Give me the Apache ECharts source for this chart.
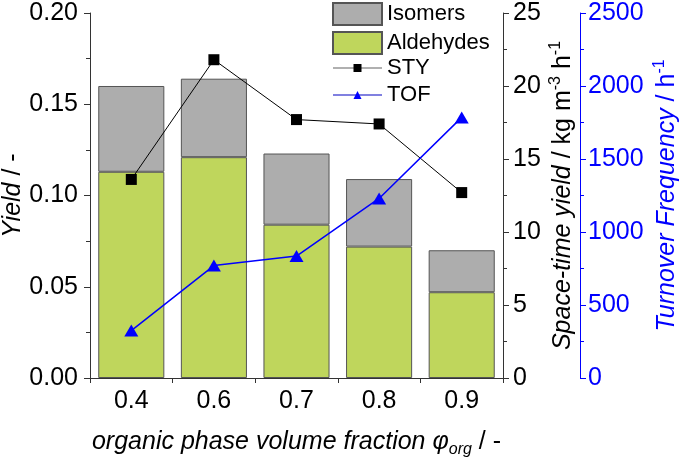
<!DOCTYPE html>
<html>
<head>
<meta charset="utf-8">
<script src="https://cdn.jsdelivr.net/npm/echarts@6/dist/echarts.min.js"></script>
<style>html,body{margin:0;padding:0;background:#fff}#c{width:680px;height:459px}</style>
</head>
<body>
<div id="c"></div>
<script>
var categories = ['0.4', '0.6', '0.7', '0.8', '0.9'];
var aldehydes = [0.113, 0.121, 0.084, 0.072, 0.047];
var isomers = [0.047, 0.043, 0.039, 0.037, 0.023];
var sty = [13.6, 21.8, 17.7, 17.4, 12.7];
var tof = [325, 770, 835, 1230, 1785];
var yieldTicks = {min: 0, max: 0.2, interval: 0.05};
var styTicks = {min: 0, max: 25, interval: 5};
var tofTicks = {min: 0, max: 2500, interval: 500};

var FF = '"Liberation Sans", Arial, sans-serif';
var AX = '#333';
var BLUE = '#0000ff';
var LF = 25, NF = 25, SF = 16;
var chart = echarts.init(document.getElementById('c'), null, {renderer: 'canvas'});
chart.setOption({
  animation: false,
  textStyle: {fontFamily: FF},
  grid: {left: 90, right: 177, top: 13, bottom: 81, containLabel: false, outerBoundsMode: 'none'},
  legend: [{
    data: ['Isomers', 'Aldehydes'],
    orient: 'vertical', left: 332, top: 2, icon: 'rect', padding: 0,
    itemWidth: 49, itemHeight: 22, itemGap: 5,
    textStyle: {fontSize: 22, color: '#000', fontFamily: FF, lineHeight: 22}
  }, {
    data: [{name: 'STY', lineStyle: {color: '#b0b0b0'}}, {name: 'TOF', lineStyle: {color: '#8080e0'}}],
    orient: 'vertical', left: 332, top: 57, padding: 0,
    itemWidth: 49, itemHeight: 10, itemGap: 5,
    textStyle: {fontSize: 22, color: '#000', fontFamily: FF, lineHeight: 22}
  }],
  xAxis: {
    type: 'category', data: categories,
    axisLine: {lineStyle: {color: AX, width: 1}},
    axisTick: {show: true, alignWithLabel: false, length: 5, lineStyle: {color: AX}},
    axisLabel: {fontSize: LF, color: '#000', margin: 11, fontFamily: FF},
    name: '{it|organic phase volume fraction φ}{sub|org}{n| / -}',
    nameLocation: 'middle', nameGap: 48, nameMoveOverlap: false,
    nameTextStyle: {
      rich: {
        it: {fontSize: NF, fontStyle: 'italic', color: '#000', fontFamily: FF, lineHeight: 32},
        sub: {fontSize: SF, fontStyle: 'italic', color: '#000', fontFamily: FF, lineHeight: 16, verticalAlign: 'bottom'},
        n: {fontSize: NF, color: '#000', fontFamily: FF, lineHeight: 32}
      }
    }
  },
  yAxis: [{
    type: 'value', position: 'left',
    min: yieldTicks.min, max: yieldTicks.max, interval: yieldTicks.interval,
    axisLine: {show: true, lineStyle: {color: AX, width: 1}},
    axisTick: {show: true, length: 6, lineStyle: {color: AX}},
    minorTick: {show: true, splitNumber: 2, length: 4, lineStyle: {color: AX}},
    splitLine: {show: false},
    axisLabel: {fontSize: LF, color: '#000', margin: 12, fontFamily: FF,
      formatter: function (v) { return v.toFixed(2); }},
    name: '{it|Yield}{n| / -}', nameLocation: 'middle', nameGap: 64, nameMoveOverlap: false,
    nameTextStyle: {rich: {
      it: {fontSize: NF, fontStyle: 'italic', color: '#000', fontFamily: FF},
      n: {fontSize: NF, color: '#000', fontFamily: FF}
    }}
  }, {
    type: 'value', position: 'right', offset: 0,
    min: styTicks.min, max: styTicks.max, interval: styTicks.interval,
    axisLine: {show: true, lineStyle: {color: AX, width: 1}},
    axisTick: {show: true, length: 6, lineStyle: {color: AX}},
    minorTick: {show: true, splitNumber: 2, length: 4, lineStyle: {color: AX}},
    splitLine: {show: false},
    axisLabel: {fontSize: LF, color: '#000', margin: 10, fontFamily: FF,
      formatter: function (v) { return String(v); }},
    name: '{it|Space-time yield}{n| / kg m}{sup|-3}{n| h}{sup|-1}',
    nameLocation: 'middle', nameGap: 45, nameRotate: 90, nameMoveOverlap: false,
    nameTextStyle: {rich: {
      it: {fontSize: NF, fontStyle: 'italic', color: '#000', fontFamily: FF, lineHeight: 30},
      n: {fontSize: NF, color: '#000', fontFamily: FF, lineHeight: 30},
      sup: {fontSize: SF, color: '#000', fontFamily: FF, lineHeight: 16, verticalAlign: 'top'}
    }}
  }, {
    type: 'value', position: 'right', offset: 77,
    min: tofTicks.min, max: tofTicks.max, interval: tofTicks.interval,
    axisLine: {show: true, lineStyle: {color: BLUE, width: 1}},
    axisTick: {show: true, length: 6, lineStyle: {color: BLUE}},
    minorTick: {show: true, splitNumber: 2, length: 4, lineStyle: {color: BLUE}},
    splitLine: {show: false},
    axisLabel: {fontSize: LF, color: BLUE, margin: 8, fontFamily: FF,
      formatter: function (v) { return String(v); }},
    name: '{it|Turnover Frequency}{n| / h}{sup|-1}',
    nameLocation: 'middle', nameGap: 72, nameRotate: 90, nameMoveOverlap: false,
    nameTextStyle: {rich: {
      it: {fontSize: NF, fontStyle: 'italic', color: BLUE, fontFamily: FF, lineHeight: 30},
      n: {fontSize: NF, color: BLUE, fontFamily: FF, lineHeight: 30},
      sup: {fontSize: SF, color: BLUE, fontFamily: FF, lineHeight: 16, verticalAlign: 'top'}
    }}
  }],
  series: [{
    name: 'Aldehydes', type: 'bar', stack: 'y', yAxisIndex: 0, barWidth: '80%',
    data: aldehydes,
    itemStyle: {color: '#bfd65c', borderColor: '#555', borderWidth: 1}
  }, {
    name: 'Isomers', type: 'bar', stack: 'y', yAxisIndex: 0, barWidth: '80%',
    data: isomers,
    itemStyle: {color: '#adadad', borderColor: '#555', borderWidth: 1}
  }, {
    name: 'STY', type: 'line', yAxisIndex: 1, data: sty,
    symbol: 'rect', symbolSize: 11,
    lineStyle: {color: '#000', width: 1},
    itemStyle: {color: '#000'}
  }, {
    name: 'TOF', type: 'line', yAxisIndex: 2, data: tof,
    symbol: 'triangle', symbolSize: [14, 12],
    lineStyle: {color: BLUE, width: 1.5},
    itemStyle: {color: BLUE}
  }]
});
</script>
</body>
</html>
